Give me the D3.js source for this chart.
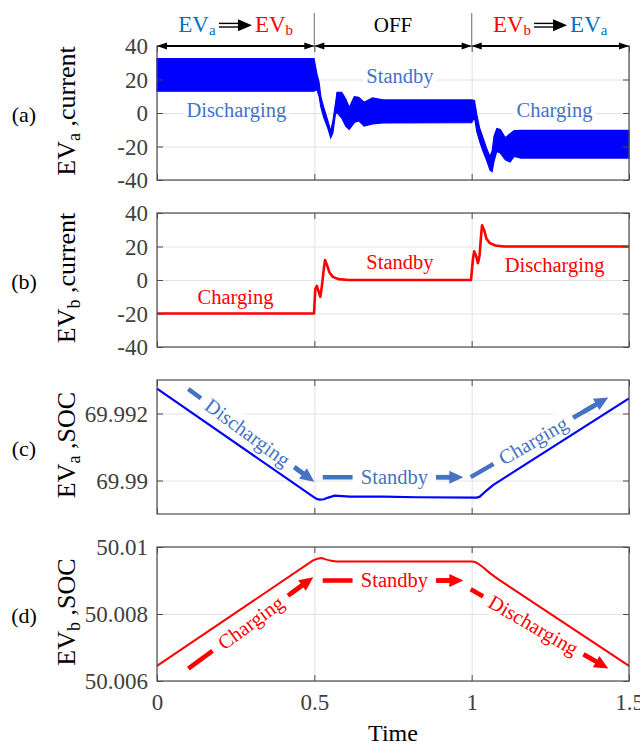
<!DOCTYPE html>
<html><head><meta charset="utf-8">
<script src="https://cdn.jsdelivr.net/npm/d3@7"></script>
<style>
body{margin:0;background:#fff}
svg{display:block}
text{font-family:"Liberation Serif","Times New Roman",serif}
</style>
</head><body>
<svg id="chart" width="640" height="745"></svg>
<script>
// ---------- data ----------
const timeTicks = [0, 0.5, 1, 1.5];
const currentTicks = [-40, -20, 0, 20, 40];
const socATicks = [69.99, 69.992];
const socBTicks = [50.006, 50.008, 50.01];

// (a) EVa current: envelope of the fast-switching ripple band
const aTime  = [0, 0.499, 0.508, 0.515, 0.521, 0.53, 0.543, 0.552, 0.559, 0.567, 0.572, 0.587, 0.6, 0.611, 0.627, 0.641, 0.658, 0.685, 0.718, 1.0, 1.009, 1.016, 1.025, 1.036, 1.047, 1.058, 1.065, 1.071, 1.08, 1.091, 1.107, 1.122, 1.135, 1.157, 1.5];
const aUpper = [32.5, 32.5, 23.5, 18.4, 9.4, 3.3, -4.7, -10.8, -4.7, 5.3, 12.4, 12.4, 8.4, 3.3, 9.8, 9.4, 6.4, 9, 7.8, 7.8, 7.4, -0.7, -8.8, -14.8, -20.9, -25.9, -22.9, -14, -9.2, -9.8, -14.8, -12.4, -10.5, -10.4, -10.4];
const aLower = [13, 13, 14, 10, 3.3, -2.7, -9.2, -14.8, -11.8, -0.7, 0.3, -3, -8, -9.8, -5.7, -4.7, -7.8, -6.5, -5.9, -5.7, -2.7, -10.8, -16.8, -22.9, -27.9, -34, -35, -28.9, -22.9, -23.9, -27.9, -29.3, -25.9, -26.9, -26.9];

// (b) EVb current
const bTime    = [0, 0.499, 0.503, 0.508, 0.513, 0.519, 0.524, 0.53, 0.534, 0.541, 0.548, 0.559, 0.576, 0.609, 0.998, 1.004, 1.008, 1.014, 1.02, 1.025, 1.03, 1.033, 1.04, 1.047, 1.058, 1.075, 1.102, 1.5];
const bCurrent = [-20, -20, -5.5, -3.5, -6.5, -10, -3.5, 6.5, 11.9, 8.5, 4.5, 1.9, 0.5, 0, 0, 12.5, 17.1, 14.5, 10.1, 14.5, 26.6, 32.6, 29.6, 24.6, 22, 20.6, 20, 20];

// (c) EVa SOC
const cTime = [0, 0.496, 0.507, 0.517, 0.53, 0.544, 0.565, 0.613, 0.719, 0.825, 1.016, 1.026, 1.047, 1.069, 1.5];
const cSOC  = [69.99274, 69.98952, 69.98945, 69.98943, 69.98944, 69.98949, 69.98955, 69.98952, 69.98952, 69.9895, 69.98949, 69.98952, 69.9897, 69.98987, 69.99245];

// (d) EVb SOC
const dTime = [0, 0.496, 0.51, 0.523, 0.536, 0.549, 0.57, 1.0, 1.011, 1.021, 1.037, 1.058, 1.084, 1.5];
const dSOC  = [50.00645, 50.0096, 50.00965, 50.00967, 50.00963, 50.0096, 50.00957, 50.00957, 50.00955, 50.0095, 50.00939, 50.00922, 50.00904, 50.00645];

// text labels (time, value at baseline)
const aLabels = [["Discharging", 0.252, -2.4], ["Standby", 0.772, 17.8], ["Charging", 1.263, -2.4]];
const bLabels = [["Charging", 0.2495, -14.5], ["Standby", 0.772, 6.5], ["Discharging", 1.2635, 4.5]];
// dashed arrows: label, from [t,v], to [t,v], text position fraction
const cArrows = [
  ["Discharging", [0.0995, 69.99273], [0.4999, 69.98996], 0.47],
  ["Standby", [0.5266, 69.9901], [0.9734, 69.9901], 0.51],
  ["Charging", [0.9969, 69.9901], [1.4342, 69.99248], 0.455]
];
const dArrows = [
  ["Charging", [0.0995, 50.00637], [0.4967, 50.0091], 0.5],
  ["Standby", [0.5266, 50.009], [0.9734, 50.009], 0.51],
  ["Discharging", [0.9969, 50.00874], [1.4342, 50.00637], 0.455]
];
const phaseBounds = [0, 0.5, 1, 1.5];

// ---------- layout ----------
const svg = d3.select("#chart");
const X0 = 157, X1 = 629, PH = 134;
const x = d3.scaleLinear().domain([0, 1.5]).range([X0, X1]);
const fmt = d => String(d);
const BLUE = "#0000ff", RED = "#ff0000", SBLUE = "#4472c4", HBLUE = "#0070c0";

const panels = [
  {top: 46,  dom: [-40, 40], ticks: currentTicks, sub: "a", suffix: " ,current", tag: "(a)"},
  {top: 213, dom: [-40, 40], ticks: currentTicks, sub: "b", suffix: " ,current", tag: "(b)"},
  {top: 380, dom: [69.989, 69.993], ticks: socATicks, sub: "a", suffix: " ,SOC", tag: "(c)"},
  {top: 547, dom: [50.006, 50.01], ticks: socBTicks, sub: "b", suffix: " ,SOC", tag: "(d)"}
];

panels.forEach((p, i) => {
  p.y = d3.scaleLinear().domain(p.dom).range([p.top + PH, p.top]);
  const g = svg.append("g");
  p.g = g;
  // grid
  g.append("g").attr("transform", `translate(0,${p.top + PH})`)
    .call(d3.axisBottom(x).tickValues(timeTicks).tickSize(-PH).tickFormat(""))
    .call(s => { s.select(".domain").remove(); s.selectAll("line").attr("stroke", "#e2e2e2"); });
  g.append("g").attr("transform", `translate(${X0},0)`)
    .call(d3.axisLeft(p.y).tickValues(p.ticks).tickSize(-(X1 - X0)).tickFormat(""))
    .call(s => { s.select(".domain").remove(); s.selectAll("line").attr("stroke", "#e2e2e2"); });
  p.bg = g.append("g");
  p.data = g.append("g");
  p.fg = g.append("g");
  // axes with inner ticks
  const axL = g.append("g").attr("transform", `translate(${X0},0)`)
    .call(d3.axisLeft(p.y).tickValues(p.ticks).tickSize(-6).tickPadding(9).tickFormat(fmt));
  const axR = g.append("g").attr("transform", `translate(${X1},0)`)
    .call(d3.axisRight(p.y).tickValues(p.ticks).tickSize(-6).tickFormat(""));
  const axB = g.append("g").attr("transform", `translate(0,${p.top + PH})`)
    .call(d3.axisBottom(x).tickValues(timeTicks).tickSize(-6).tickPadding(13).tickFormat(i === 3 ? fmt : ""));
  const axT = g.append("g").attr("transform", `translate(0,${p.top})`)
    .call(d3.axisTop(x).tickValues(timeTicks).tickSize(-6).tickFormat(""));
  [axL, axR, axB, axT].forEach(a => {
    a.attr("font-family", null);
    a.select(".domain").remove();
    a.selectAll("line").attr("stroke", "#4d4d4d");
    a.selectAll("text").attr("fill", "#404040").style("font-size", "23px");
  });
  axL.selectAll("text").attr("dy", "0.34em");
  axB.selectAll("text").attr("dy", "0.71em");
  g.append("rect").attr("x", X0).attr("y", p.top).attr("width", X1 - X0).attr("height", PH)
    .attr("fill", "none").attr("stroke", "#4d4d4d").attr("stroke-width", 1.2);
  // y label
  const cy = p.top + PH / 2 - 2;
  const yl = g.append("text").attr("transform", `translate(75,${cy}) rotate(-90)`)
    .attr("text-anchor", "middle").style("font-size", "26px").attr("fill", "#000");
  yl.append("tspan").text("EV");
  yl.append("tspan").attr("dy", 5).style("font-size", "18px").text(p.sub);
  yl.append("tspan").attr("dy", -5).text(p.suffix);
  // tag
  g.append("text").attr("x", 24).attr("y", p.top + PH / 2 + 9).attr("text-anchor", "middle")
    .style("font-size", "22px").attr("fill", "#000").text(p.tag);
});

// ---------- (a) band ----------
const pa = panels[0];
const aRows = aTime.map((t, i) => ({t, u: aUpper[i], l: aLower[i]}));
pa.data.append("path").datum(aRows)
  .attr("d", d3.area().x(d => x(d.t)).y0(d => pa.y(d.l)).y1(d => pa.y(d.u)))
  .attr("fill", BLUE).attr("stroke", BLUE).attr("stroke-width", 1.2);

function boxedLabels(p, labels, color, boxed) {
  labels.forEach(([txt, t, v]) => {
    const te = p.fg.append("text").attr("x", x(t)).attr("y", p.y(v)).attr("text-anchor", "middle")
      .style("font-size", "20.5px").attr("fill", color).text(txt);
    if (boxed) {
      const bb = te.node().getBBox();
      p.bg.append("rect").attr("x", bb.x - 3).attr("y", bb.y).attr("width", bb.width + 6)
        .attr("height", bb.height).attr("fill", "#fff");
    }
  });
}
boxedLabels(pa, aLabels, SBLUE, true);

// ---------- (b) ----------
const pb = panels[1];
pb.data.append("path").datum(bTime.map((t, i) => [t, bCurrent[i]]))
  .attr("d", d3.line().x(d => x(d[0])).y(d => pb.y(d[1])))
  .attr("fill", "none").attr("stroke", RED).attr("stroke-width", 2.6).attr("stroke-linejoin", "round");
boxedLabels(pb, bLabels, RED, false);

// ---------- (c), (d) ----------
function arrows(p, list, color) {
  list.forEach(([txt, from, to, at]) => {
    const x1 = x(from[0]), y1 = p.y(from[1]), x2 = x(to[0]), y2 = p.y(to[1]);
    const dx = x2 - x1, dy = y2 - y1, L = Math.hypot(dx, dy), ux = dx / L, uy = dy / L;
    const ang = Math.atan2(dy, dx) * 180 / Math.PI;
    const head = 14, hw = 6.5;
    const bx = x2 - ux * head, by = y2 - uy * head;
    const cx = x1 + dx * at, cy = y1 + dy * at;
    const tf = `translate(${cx},${cy}) rotate(${ang})`;
    p.fg.append("line").attr("x1", x1).attr("y1", y1).attr("x2", bx + ux).attr("y2", by + uy)
      .attr("stroke", color).attr("stroke-width", 4.5).attr("stroke-dasharray", "30,8");
    p.fg.append("line").attr("x1", bx - ux * 14).attr("y1", by - uy * 14).attr("x2", bx + ux).attr("y2", by + uy)
      .attr("stroke", color).attr("stroke-width", 4.5);
    p.fg.append("path")
      .attr("d", `M${x2},${y2}L${bx - uy * hw},${by + ux * hw}L${bx + uy * hw},${by - ux * hw}Z`)
      .attr("fill", color);
    const tg = p.fg.append("g").attr("transform", tf);
    const te = tg.append("text").attr("text-anchor", "middle").attr("dy", "0.33em")
      .style("font-size", "20.5px").attr("fill", color).text(txt);
    const w = te.node().getComputedTextLength();
    // white box covering the dashes behind the text
    tg.insert("rect", "text").attr("x", -w / 2 - 8).attr("y", -11).attr("width", w + 16)
      .attr("height", 22).attr("fill", "#fff");
    p.bg.append("rect").attr("transform", tf).attr("x", -w / 2 - 8).attr("y", -13).attr("width", w + 16)
      .attr("height", 26).attr("fill", "#fff");
  });
}
const lineGen = p => d3.line().x(d => x(d[0])).y(d => p.y(d[1]));
const pc = panels[2];
arrows(pc, cArrows, SBLUE);
pc.data.append("path").datum(cTime.map((t, i) => [t, cSOC[i]]))
  .attr("d", lineGen(pc)).attr("stroke-linejoin", "round")
  .attr("fill", "none").attr("stroke", BLUE).attr("stroke-width", 2.2);
const pd = panels[3];
arrows(pd, dArrows, RED);
pd.data.append("path").datum(dTime.map((t, i) => [t, dSOC[i]]))
  .attr("d", lineGen(pd)).attr("stroke-linejoin", "round")
  .attr("fill", "none").attr("stroke", RED).attr("stroke-width", 2);

// x title
svg.append("text").attr("x", (X0 + X1) / 2).attr("y", 741).attr("text-anchor", "middle")
  .style("font-size", "24px").attr("fill", "#000").text("Time");

// ---------- header ----------
const hdr = svg.append("g");
[0.5, 1].forEach(t => hdr.append("line").attr("x1", x(t)).attr("x2", x(t)).attr("y1", 13).attr("y2", 46)
  .attr("stroke", "#8c8c8c").attr("stroke-width", 1.3));
const AY = 46;
for (let i = 0; i < 3; i++) {
  const xa = x(phaseBounds[i]), xb = x(phaseBounds[i + 1]);
  hdr.append("line").attr("x1", xa + 4).attr("x2", xb - 4).attr("y1", AY).attr("y2", AY)
    .attr("stroke", "#000").attr("stroke-width", 2);
  hdr.append("path").attr("d", `M${xa},${AY}L${xa + 10},${AY - 3.6}L${xa + 10},${AY + 3.6}Z`).attr("fill", "#000");
  hdr.append("path").attr("d", `M${xb},${AY}L${xb - 10},${AY - 3.6}L${xb - 10},${AY + 3.6}Z`).attr("fill", "#000");
}
function evText(sub, color) {
  const t = hdr.append("text").attr("y", 32).attr("fill", color).style("font-size", "23px");
  t.append("tspan").text("EV");
  t.append("tspan").attr("dy", 3).style("font-size", "15px").text(sub);
  return t;
}
function flowGroup(subA, colA, subB, colB, center) {
  const t1 = evText(subA, colA), t2 = evText(subB, colB);
  const w1 = t1.node().getBBox().width, w2 = t2.node().getBBox().width;
  const gap = 3, aw = 33;
  const total = w1 + gap + aw + gap + w2;
  let sx = center - total / 2;
  t1.attr("x", sx);
  const ax = sx + w1 + gap;
  hdr.append("line").attr("x1", ax).attr("x2", ax + 21).attr("y1", 23.4).attr("y2", 23.4).attr("stroke", "#000").attr("stroke-width", 1.4);
  hdr.append("line").attr("x1", ax).attr("x2", ax + 21).attr("y1", 27).attr("y2", 27).attr("stroke", "#000").attr("stroke-width", 1.4);
  hdr.append("path").attr("d", `M${ax + aw},25.2L${ax + 19},19.2L${ax + 19},31.2Z`).attr("fill", "#000");
  t2.attr("x", ax + aw + gap);
}
flowGroup("a", HBLUE, "b", RED, (x(0) + x(0.5)) / 2);
hdr.append("text").attr("x", (x(0.5) + x(1)) / 2).attr("y", 32).attr("text-anchor", "middle")
  .style("font-size", "21px").attr("fill", "#000").text("OFF");
flowGroup("b", RED, "a", HBLUE, (x(1) + x(1.5)) / 2);
</script>
</body></html>
